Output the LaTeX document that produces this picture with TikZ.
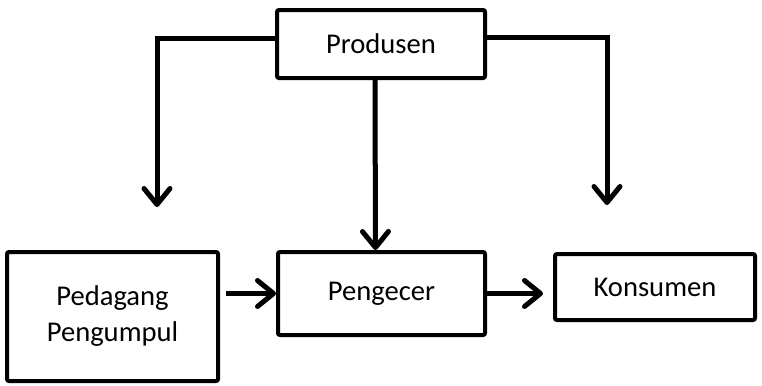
\documentclass[tikz,border=0pt]{standalone}
\usepackage{fontspec}
\setmainfont{Carlito}
\usepackage{xcolor}
\definecolor{cLine}{HTML}{000000}
\usepackage{tikz}
\usetikzlibrary{positioning,arrows.meta}
\tikzset{
  node-box/.style={draw=cLine,line width=2pt,rounded corners=1pt,
    inner sep=0pt,align=center,font=\fontsize{14.3}{18}\selectfont},
  arrow/.style={-{Straight Barb[length=8pt,width=13pt,line cap=round,line join=round]},
    line width=2.5pt,draw=cLine},
  link/.style={line width=2.5pt,draw=cLine},
}
\begin{document}
\begin{tikzpicture}[x=0.5pt,y=-0.5pt]
  \useasboundingbox (0,0) rectangle (762,386);
  \node[node-box,minimum width=104pt,minimum height=34pt] (prod) at (381,44) {Produsen};
  \node[node-box,minimum width=103.5pt,minimum height=41.5pt] (peng) at (381.5,293.5) {Pengecer};
  \node[node-box,minimum width=105.5pt,minimum height=64.5pt] (pedg) at (112.5,316.5) {Pedagang\\Pengumpul};
  \node[node-box,minimum width=100pt,minimum height=33pt] (kons) at (655,287) {Konsumen};
  \coordinate (lt) at (157,207);
  \coordinate (rt) at (607,205);
  % cabang dari produsen
  \draw[arrow] ([yshift=3pt]prod.west) -| (lt);
  \draw[arrow] ([yshift=3.5pt]prod.east) -| (rt);
  \draw[arrow] ([xshift=-3pt]prod.south) -- ([xshift=-3pt]peng.north);
  % alur ke konsumen
  \draw[arrow,shorten <=3pt] (pedg.east |- peng.west) -- (peng.west);
  \draw[arrow,shorten >=5pt] (peng.east) -- (peng.east -| kons.west);
\end{tikzpicture}
\end{document}
